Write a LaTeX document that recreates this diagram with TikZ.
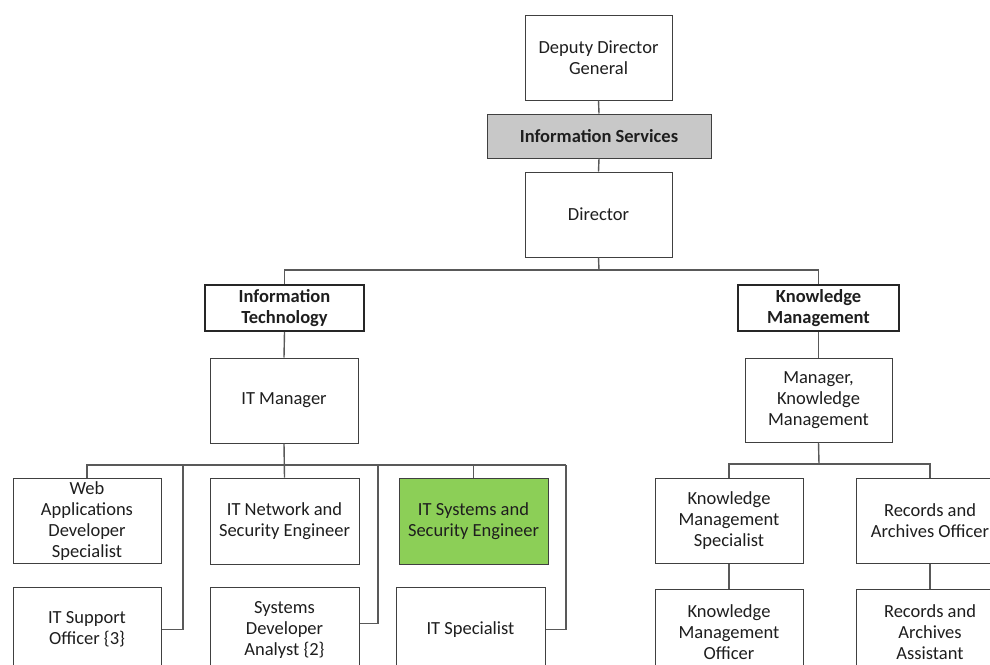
\documentclass[tikz,border=0pt]{standalone}
\usepackage{fontspec}
\setmainfont{Carlito}
\definecolor{boxc}{HTML}{404040}
\definecolor{linec}{HTML}{595959}
\definecolor{txt}{HTML}{1E1E1E}
\definecolor{grayfill}{HTML}{C8C8C8}
\definecolor{greenfill}{HTML}{8CCF57}
\tikzset{
  orgbox/.style={draw=boxc, line width=1pt, fill=white, text=txt, minimum width=148pt, minimum height=85pt, inner sep=0pt, align=center, font=\fontsize{18.5}{21}\selectfont},
  headbox/.style={orgbox, line width=2pt, draw=black!85, minimum height=46pt, font=\fontsize{18.5}{21}\selectfont\bfseries},
  conn/.style={draw=linec, line width=1.4pt}
}
\begin{document}
\begin{tikzpicture}[x=1pt,y=-1pt]
\clip (0,0) rectangle (990,664);
\fill[white] (0,0) rectangle (990,664);
% nodes
\node[orgbox, minimum width=147pt] (ddg) at (598.5,57.5) {Deputy Director\\General};
\node[orgbox, fill=grayfill, line width=1pt, minimum width=224pt, minimum height=44pt, font=\fontsize{18.5}{21}\selectfont\bfseries] (is) at (599,136) {Information Services};
\node[orgbox, minimum width=147pt] (dir) at (598.5,214.5) {Director};
\node[headbox, minimum width=159pt] (it) at (284.5,308) {Information\\Technology};
\node[headbox, minimum width=161pt] (km) at (818.5,308) {Knowledge\\Management};
\node[orgbox] (itm) at (284,400.5) {IT Manager};
\node[orgbox, minimum width=147pt, minimum height=84pt] (mkm) at (818.5,400) {Manager,\\Knowledge\\Management};
\node[orgbox] (web) at (87,521) {Web\\Applications\\Developer\\Specialist};
\node[orgbox, minimum width=149pt, minimum height=86pt] (net) at (284.5,521) {IT Network and\\Security Engineer};
\node[orgbox, fill=greenfill, minimum width=149pt, minimum height=86pt] (sys) at (473.5,521) {IT Systems and\\Security Engineer};
\node[orgbox] (sup) at (87,629.5) {IT Support\\Officer \{3\}};
\node[orgbox, minimum width=149pt] (sda) at (284.5,629.5) {Systems\\Developer\\Analyst \{2\}};
\node[orgbox, minimum width=149pt] (spec) at (470.5,629.5) {IT Specialist};
\node[orgbox] (kms) at (729,520.5) {Knowledge\\Management\\Specialist};
\node[orgbox] (rao) at (930,520.5) {Records and\\Archives Officer};
\node[orgbox] (kmo) at (729,632) {Knowledge\\Management\\Officer};
\node[orgbox] (raa) at (930,632) {Records and\\Archives\\Assistant};
% bus coordinates
\coordinate (bus1) at (599,270);
\coordinate (bus2) at (285,465);
\coordinate (busr) at (566,465);
\coordinate (v1) at (183,465);
\coordinate (v2) at (378,465);
\coordinate (bus3) at (819,464);
% connectors
\draw[conn] (ddg.south) -- (is.north);
\draw[conn] (is.south) -- (dir.north);
\draw[conn] (dir.south) -- (bus1);
\draw[conn] (it.north) |- (bus1) -| (km.north);
\draw[conn] (it.south) -- (itm.north);
\draw[conn] (km.south) -- (mkm.north);
\draw[conn] (itm.south) -- (net.north);
\draw[conn] (web.north) |- (busr);
\draw[conn] (busr) |- (spec.east);
\draw[conn] (sys.north) -- (sys.north |- busr);
\draw[conn] (v1) |- (sup.east);
\draw[conn] (v2) |- ([yshift=6pt]sda.east);
\draw[conn] (mkm.south) -- (bus3);
\draw[conn] (kms.north) |- (bus3) -| (rao.north);
\draw[conn] (kms.south) -- (kmo.north);
\draw[conn] (rao.south) -- (raa.north);
\end{tikzpicture}
\end{document}
